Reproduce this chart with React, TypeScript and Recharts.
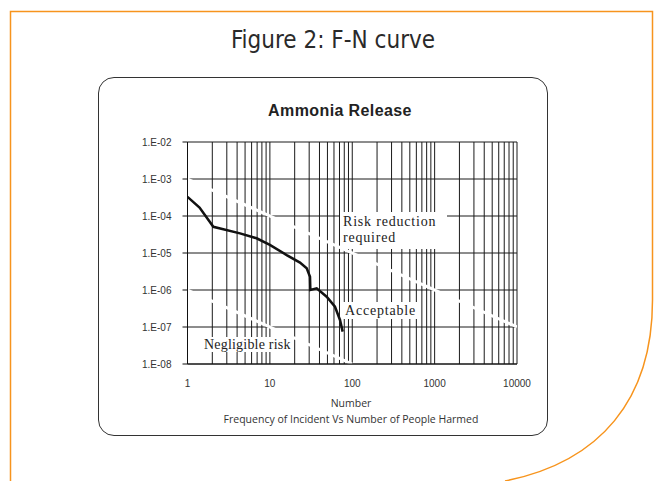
import React from 'react';
import { LineChart, Line, XAxis, YAxis, CartesianGrid } from 'recharts';

// F-N curve for the ammonia release (number of people harmed vs frequency)
const curveN = [1, 1.4, 2.06, 4.34, 6.9, 10, 16, 23.2, 28, 30.7, 31, 37, 48.9, 61.7, 71, 76.5];
const curveF = [3.3e-4, 1.7e-4, 5.1e-5, 3.4e-5, 2.5e-5, 1.65e-5, 8.8e-6, 5.5e-6, 3.86e-6, 2.29e-6, 1.0e-6, 1.11e-6, 6.6e-7, 3.54e-7, 1.55e-7, 7.5e-8];

// criterion lines (white)
const upperN = [1, 10000];
const upperF = [1e-3, 1e-7];
const lowerN = [1, 100];
const lowerF = [1e-6, 1e-8];

const decades = [1, 10, 100, 1000];
const steps = [1, 2, 3, 4, 5, 6, 7, 8, 9];
const xTicks = [...decades.flatMap((d) => steps.map((s) => d * s)), 10000];
const yTicks = [1e-8, 1e-7, 1e-6, 1e-5, 1e-4, 1e-3, 1e-2];

const toRows = (ns: number[], fs: number[]) => ns.map((n, i) => ({ n, f: fs[i] }));
const curve = toRows(curveN, curveF);
const upperLine = toRows(upperN, upperF);
const lowerLine = toRows(lowerN, lowerF);

const isDecade = (v: number) => Math.abs(Math.log10(v) - Math.round(Math.log10(v))) < 1e-9;
const fmtY = (v: number) => `1.E-${String(Math.round(-Math.log10(v))).padStart(2, '0')}`;

const serif: React.CSSProperties = {
  position: 'absolute',
  background: '#fff',
  fontFamily: '"Liberation Serif", serif',
  fontSize: 14,
  color: '#222',
  whiteSpace: 'nowrap',
};

const App: React.FC = () => {
  return (
    <div style={{ position: 'absolute', left: 0, top: 0, width: 658, height: 481, background: '#fff', overflow: 'hidden' }}>
      <svg width={658} height={481} style={{ position: 'absolute', left: 0, top: 0 }}>
        <path
          d="M10.5,481 L10.5,11.5 L652.5,11.5 L652.5,300 C652.5,400 600,462 505,481"
          fill="none"
          stroke="#F7941D"
          strokeWidth={1.5}
        />
      </svg>
      <div
        style={{
          position: 'absolute', left: 0, top: 26, width: 666, textAlign: 'center',
          fontFamily: '"DejaVu Sans Condensed", "DejaVu Sans", sans-serif', fontStretch: 'condensed',
          fontSize: 24, color: '#2a2a2a',
        }}
      >
        Figure 2: F-N curve
      </div>
      <div
        style={{
          position: 'absolute', left: 98, top: 77, width: 448, height: 357,
          border: '1.5px solid #333', borderRadius: 16,
        }}
      />
      <div
        style={{
          position: 'absolute', left: 90, top: 102, width: 500, textAlign: 'center',
          fontFamily: '"Liberation Sans", Arial, sans-serif', fontWeight: 'bold', fontSize: 16,
          letterSpacing: 0.4, color: '#222',
        }}
      >
        Ammonia Release
      </div>
      <div style={{ position: 'absolute', left: 0, top: 0 }}>
        <LineChart
          width={658}
          height={481}
          margin={{ top: 142, right: 141, left: 127.5, bottom: 77 }}
          style={{ fontFamily: '"Liberation Sans", Arial, sans-serif' }}
        >
          <CartesianGrid stroke="#1a1a1a" strokeWidth={1} />
          <XAxis
            dataKey="n"
            type="number"
            scale="log"
            domain={[1, 10000]}
            allowDataOverflow
            ticks={xTicks}
            interval={0}
            tickFormatter={(v: number) => (isDecade(v) ? String(Math.round(v)) : '')}
            tickLine={false}
            tickSize={0}
            tickMargin={16}
            axisLine={{ stroke: '#111' }}
            height={40}
            tick={{ fontSize: 10, fill: '#333' }}
          />
          <YAxis
            dataKey="f"
            type="number"
            scale="log"
            domain={[1e-8, 1e-2]}
            allowDataOverflow
            ticks={yTicks}
            interval={0}
            tickFormatter={fmtY}
            tickSize={5}
            tickMargin={11}
            tickLine={{ stroke: '#111' }}
            axisLine={{ stroke: '#111' }}
            width={60}
            tick={{ fontSize: 10, fill: '#333' }}
          />
          <Line data={upperLine} dataKey="f" stroke="#fff" strokeWidth={3} dot={false} isAnimationActive={false} />
          <Line data={lowerLine} dataKey="f" stroke="#fff" strokeWidth={3} dot={false} isAnimationActive={false} />
          <Line data={curve} dataKey="f" stroke="#111" strokeWidth={2.5} dot={false} isAnimationActive={false} />
        </LineChart>
      </div>
      <div style={{ ...serif, left: 340, top: 212, width: 104, height: 35, paddingLeft: 3, paddingTop: 2, lineHeight: '16px', letterSpacing: 0.8 }}>
        Risk reduction
        <br />
        required
      </div>
      <div style={{ ...serif, left: 342, top: 302, height: 17, padding: '0 3px', lineHeight: '17px', letterSpacing: 0.8 }}>
        Acceptable
      </div>
      <div style={{ ...serif, left: 202, top: 337, height: 15, padding: '0 2px', lineHeight: '15px', letterSpacing: 0.2 }}>
        Negligible risk
      </div>
      <div
        style={{
          position: 'absolute', left: 100, top: 395, width: 502, textAlign: 'center',
          fontFamily: '"Open Sans", sans-serif', fontSize: 10.5, lineHeight: '16px', color: '#333',
        }}
      >
        Number
        <br />
        Frequency of Incident Vs Number of People Harmed
      </div>
    </div>
  );
};

export default App;
